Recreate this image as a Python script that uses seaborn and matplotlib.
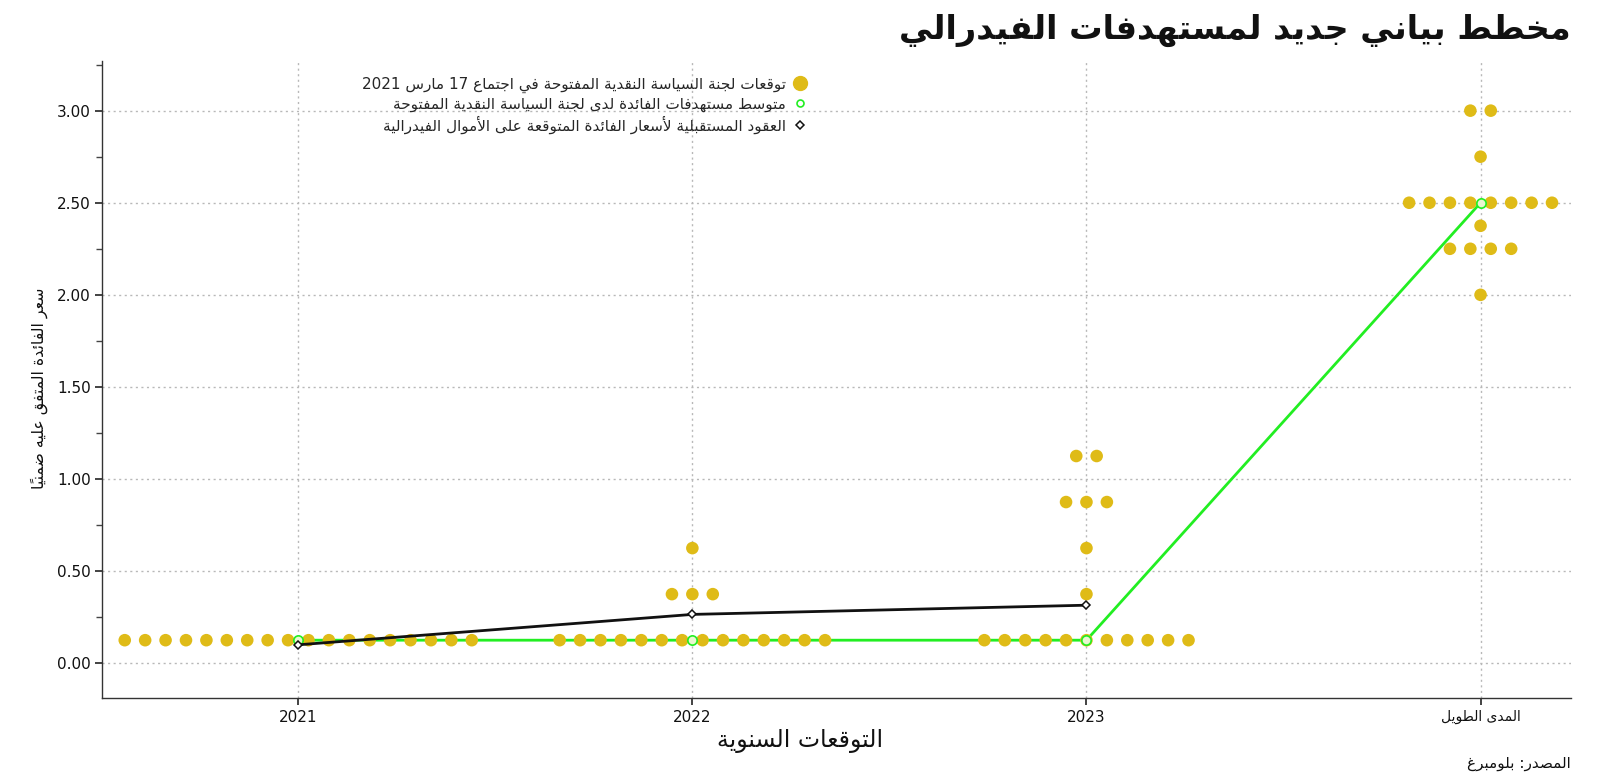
import matplotlib
matplotlib.use("Agg")
import matplotlib.pyplot as plt
from matplotlib.lines import Line2D
from matplotlib.ticker import MultipleLocator, FixedLocator
import seaborn as sns
import pandas as pd
import numpy as np

# ---------------- data ----------------
horizons = ["2021", "2022", "2023", "المدى الطويل"]
dot_rates_2021 = [0.125]
dot_counts_2021 = [18]
dot_rates_2022 = [0.125, 0.375, 0.625]
dot_counts_2022 = [14, 3, 1]
dot_rates_2023 = [0.125, 0.375, 0.625, 0.875, 1.125]
dot_counts_2023 = [11, 1, 1, 3, 2]
dot_rates_lr = [2.0, 2.25, 2.375, 2.5, 2.75, 3.0]
dot_counts_lr = [1, 4, 1, 8, 1, 2]
median_rates = [0.125, 0.125, 0.125, 2.5]
futures_rates = [0.10, 0.265, 0.315]
y_ticks = [0.0, 0.5, 1.0, 1.5, 2.0, 2.5, 3.0]

title_txt = "مخطط بياني جديد لمستهدفات الفيدرالي"
legend_dots = "توقعات لجنة السياسة النقدية المفتوحة في اجتماع 17 مارس 2021"
legend_median = "متوسط مستهدفات الفائدة لدى لجنة السياسة النقدية المفتوحة"
legend_futures = "العقود المستقبلية لأسعار الفائدة المتوقعة على الأموال الفيدرالية"
ylabel_txt = "سعر الفائدة المتفق عليه ضمنياً"
xlabel_txt = "التوقعات السنوية"
source_txt = "المصدر: بلومبرغ"

# ---------------- minimal Arabic shaping ----------------
FORMS = {
    'ء': (0xFE80, None, None, None),
    'آ': (0xFE81, 0xFE82, None, None),
    'أ': (0xFE83, 0xFE84, None, None),
    'ؤ': (0xFE85, 0xFE86, None, None),
    'إ': (0xFE87, 0xFE88, None, None),
    'ئ': (0xFE89, 0xFE8A, 0xFE8B, 0xFE8C),
    'ا': (0xFE8D, 0xFE8E, None, None),
    'ب': (0xFE8F, 0xFE90, 0xFE91, 0xFE92),
    'ة': (0xFE93, 0xFE94, None, None),
    'ت': (0xFE95, 0xFE96, 0xFE97, 0xFE98),
    'ث': (0xFE99, 0xFE9A, 0xFE9B, 0xFE9C),
    'ج': (0xFE9D, 0xFE9E, 0xFE9F, 0xFEA0),
    'ح': (0xFEA1, 0xFEA2, 0xFEA3, 0xFEA4),
    'خ': (0xFEA5, 0xFEA6, 0xFEA7, 0xFEA8),
    'د': (0xFEA9, 0xFEAA, None, None),
    'ذ': (0xFEAB, 0xFEAC, None, None),
    'ر': (0xFEAD, 0xFEAE, None, None),
    'ز': (0xFEAF, 0xFEB0, None, None),
    'س': (0xFEB1, 0xFEB2, 0xFEB3, 0xFEB4),
    'ش': (0xFEB5, 0xFEB6, 0xFEB7, 0xFEB8),
    'ص': (0xFEB9, 0xFEBA, 0xFEBB, 0xFEBC),
    'ض': (0xFEBD, 0xFEBE, 0xFEBF, 0xFEC0),
    'ط': (0xFEC1, 0xFEC2, 0xFEC3, 0xFEC4),
    'ظ': (0xFEC5, 0xFEC6, 0xFEC7, 0xFEC8),
    'ع': (0xFEC9, 0xFECA, 0xFECB, 0xFECC),
    'غ': (0xFECD, 0xFECE, 0xFECF, 0xFED0),
    'ف': (0xFED1, 0xFED2, 0xFED3, 0xFED4),
    'ق': (0xFED5, 0xFED6, 0xFED7, 0xFED8),
    'ك': (0xFED9, 0xFEDA, 0xFEDB, 0xFEDC),
    'ل': (0xFEDD, 0xFEDE, 0xFEDF, 0xFEE0),
    'م': (0xFEE1, 0xFEE2, 0xFEE3, 0xFEE4),
    'ن': (0xFEE5, 0xFEE6, 0xFEE7, 0xFEE8),
    'ه': (0xFEE9, 0xFEEA, 0xFEEB, 0xFEEC),
    'و': (0xFEED, 0xFEEE, None, None),
    'ى': (0xFEEF, 0xFEF0, None, None),
    'ي': (0xFEF1, 0xFEF2, 0xFEF3, 0xFEF4),
}
LAMALEF = {'آ': (0xFEF5, 0xFEF6), 'أ': (0xFEF7, 0xFEF8),
           'إ': (0xFEF9, 0xFEFA), 'ا': (0xFEFB, 0xFEFC)}


def is_mark(c):
    o = ord(c)
    return 0x064B <= o <= 0x065F or o == 0x0670


def dual(c):
    return c in FORMS and FORMS[c][2] is not None


def shape(text):
    cl = []
    for ch in text:
        if is_mark(ch) and cl:
            cl[-1][1] += ch
        else:
            cl.append([ch, ""])
    merged = []
    i = 0
    while i < len(cl):
        b, m = cl[i]
        if b == 'ل' and i + 1 < len(cl) and cl[i + 1][0] in LAMALEF and m == "":
            merged.append(['LA' + cl[i + 1][0], cl[i + 1][1]])
            i += 2
        else:
            merged.append([b, m])
            i += 1
    out = []
    n = len(merged)
    for i, (b, m) in enumerate(merged):
        prev = merged[i - 1][0] if i > 0 else None
        nxt = merged[i + 1][0] if i + 1 < n else None
        prev_j = prev is not None and dual(prev)
        if b.startswith('LA'):
            iso, fin = LAMALEF[b[2:]]
            out.append([chr(fin if prev_j else iso), m, 'R'])
            continue
        if b not in FORMS:
            ltr = b.isdigit() or ('a' <= b.lower() <= 'z') or b == '.'
            out.append([b, m, 'L' if ltr else 'N'])
            continue
        f = FORMS[b]
        nxt_j = dual(b) and nxt is not None and (nxt in FORMS or nxt.startswith('LA'))
        if prev_j and nxt_j:
            g = f[3]
        elif prev_j:
            g = f[1]
        elif nxt_j:
            g = f[2]
        else:
            g = f[0]
        out.append([chr(g), m, 'R'])
    runs = []
    for c in out:
        t = 'L' if c[2] == 'L' else 'R'
        if runs and runs[-1][0] == t:
            runs[-1][1].append(c)
        else:
            runs.append([t, [c]])
    vis = ""
    for t, cs in reversed(runs):
        seq = cs if t == 'L' else list(reversed(cs))
        for c in seq:
            vis += c[0] + c[1]
    return vis


# ---------------- build tables ----------------
step = 0.0518
rows = []
for hi, (rates, counts) in enumerate([(dot_rates_2021, dot_counts_2021),
                                      (dot_rates_2022, dot_counts_2022),
                                      (dot_rates_2023, dot_counts_2023),
                                      (dot_rates_lr, dot_counts_lr)]):
    for r, c in zip(rates, counts):
        for k in range(c):
            rows.append({"x": hi + (k - (c - 1) / 2) * step, "rate": r})
dots = pd.DataFrame(rows)
med = pd.DataFrame({"x": np.arange(len(median_rates)), "rate": median_rates})
fut = pd.DataFrame({"x": np.arange(len(futures_rates)), "rate": futures_rates})

# ---------------- plot ----------------
sns.set_theme(style="ticks")
plt.rcParams['font.family'] = ['DejaVu Sans']

gold = "#DFBB17"
green = "#22EE22"

fig = plt.figure(figsize=(16, 7.81), dpi=100)
ax = fig.add_axes([0.064, 0.106, 0.918, 0.816])

ax.grid(True, which="major", color="#b8b8b8", linestyle=(0, (1.5, 2.5)), linewidth=1.0)
ax.set_axisbelow(True)

sns.lineplot(data=med, x="x", y="rate", ax=ax, color=green, linewidth=2.0,
             zorder=1.5, legend=False)
sns.scatterplot(data=dots, x="x", y="rate", ax=ax, color=gold, s=82,
                edgecolor="none", linewidth=0, zorder=2, legend=False)
sns.scatterplot(data=med, x="x", y="rate", ax=ax, marker="o", s=45,
                facecolor="#e9f7d0", edgecolor=green, linewidth=1.2, zorder=3,
                legend=False)
sns.lineplot(data=fut, x="x", y="rate", ax=ax, color="#111111", linewidth=2.0,
             marker="D", markersize=4.5, markerfacecolor="white",
             markeredgecolor="#111111", markeredgewidth=1.1, zorder=4, legend=False)

ax.set_xlim(-0.497, 3.23)
ax.set_ylim(-0.19, 3.27)
ax.xaxis.set_major_locator(FixedLocator(range(len(horizons))))
ax.set_xticklabels([h if h.isdigit() else shape(h) for h in horizons])
ax.yaxis.set_major_locator(FixedLocator(y_ticks))
ax.yaxis.set_minor_locator(MultipleLocator(0.25))
ax.set_yticklabels([f"{v:.2f}" for v in y_ticks])
ax.tick_params(axis="both", which="major", labelsize=11, length=5, width=1.2,
               color="#222222", labelcolor="#111111")
ax.tick_params(axis="y", which="minor", length=4, width=1.0, color="#444444")
for lab in ax.get_xticklabels()[3:]:
    lab.set_fontsize(10)
ax.set_xlabel("")
ax.set_ylabel(shape(ylabel_txt), fontsize=11.3, color="#111111")
ax.yaxis.set_label_coords(-0.037, 0.487)
for sp in ["top", "right"]:
    ax.spines[sp].set_visible(False)
for sp in ["left", "bottom"]:
    ax.spines[sp].set_color("#333333")
    ax.spines[sp].set_linewidth(1.0)

handles = [
    Line2D([], [], linestyle="none", marker="o", markersize=10,
           markerfacecolor=gold, markeredgecolor=gold),
    Line2D([], [], linestyle="none", marker="o", markersize=5,
           markerfacecolor="white", markeredgecolor=green, markeredgewidth=1.2),
    Line2D([], [], linestyle="none", marker="D", markersize=4,
           markerfacecolor="white", markeredgecolor="#111111", markeredgewidth=1.1),
]
labels = [shape(legend_dots), shape(legend_median), shape(legend_futures)]
leg = ax.legend(handles, labels, loc="upper right", bbox_to_anchor=(0.483, 0.985),
                frameon=False, markerfirst=False, fontsize=11, handlelength=0.8,
                handletextpad=0.5, labelspacing=0.25, borderaxespad=0.0)
for t in leg.get_texts():
    t.set_ha("right")
leg._legend_box.align = "right"

fig.text(0.982, 0.961, shape(title_txt), ha="right", va="center",
         fontsize=24, fontweight="bold", color="#111111")
fig.text(0.5, 0.051, shape(xlabel_txt), ha="center", va="center",
         fontsize=17, color="#111111")
fig.text(0.982, 0.023, shape(source_txt), ha="right", va="center",
         fontsize=11, color="#111111")

fig.savefig("out.png", dpi=100)
